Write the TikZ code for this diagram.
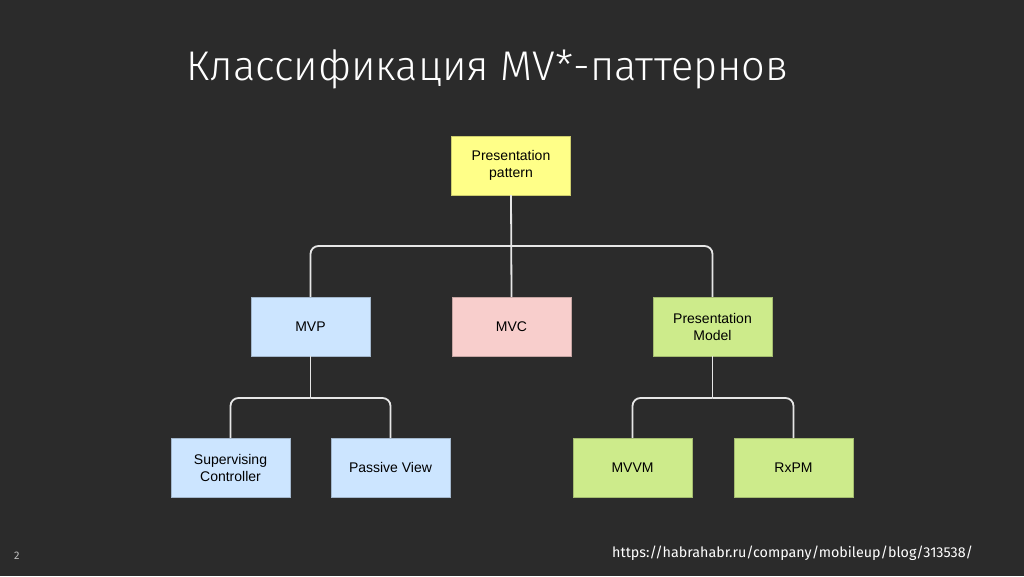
\documentclass[tikz,border=0pt]{standalone}
\usepackage{fontspec}
\setmainfont{Liberation Sans}
\newfontfamily\titlefont{Fira Sans Light}
\newfontfamily\urlfont{Fira Sans}
\definecolor{bg}{HTML}{2B2B2B}
\definecolor{cyel}{HTML}{FFFF88}
\definecolor{cblue}{HTML}{CCE5FF}
\definecolor{cpink}{HTML}{F8CECC}
\definecolor{cgreen}{HTML}{CDEB8B}
\definecolor{cline}{HTML}{E6E6E6}
\begin{document}
\begin{tikzpicture}[x=1pt,y=-1pt,
  box/.style={minimum width=119pt,minimum height=59pt,inner sep=0pt,align=center,
    font=\fontsize{14}{17}\selectfont,text=black},
  yel/.style={box,fill=cyel,draw=cyel!80!black,line width=0.4pt},
  blu/.style={box,fill=cblue,draw=cblue!80!black,line width=0.4pt},
  pnk/.style={box,fill=cpink,draw=cpink!80!black,line width=0.4pt},
  grn/.style={box,fill=cgreen,draw=cgreen!80!black,line width=0.4pt},
  conn/.style={draw=cline,line width=1.8pt,rounded corners=8pt}]
\fill[bg] (0,0) rectangle (1024,576);
\useasboundingbox (0,0) rectangle (1024,576);
\node[anchor=base west,inner sep=0pt,text=white,font=\titlefont\fontsize{41.5}{48}\selectfont] (title) at (186,80) {Классификация MV*-паттернов};
\node[yel] (top) at (511,165.5) {Presentation\\pattern};
\node[blu] (mvp) at (310.5,326.5) {MVP};
\node[pnk] (mvc) at (511.5,326.5) {MVC};
\node[grn] (pm) at (712.5,326.5) {Presentation\\Model};
\node[blu] (sc) at (230.5,467.5) {Supervising\\Controller};
\node[blu] (pv) at (390.5,467.5) {Passive View};
\node[grn] (mvvm) at (632.5,467.5) {MVVM};
\node[grn] (rxpm) at (793.5,467.5) {RxPM};
\coordinate (bus1) at (511,246);
\coordinate (bus2) at (310.5,398);
\coordinate (bus3) at (712.5,398);
\draw[conn] (top.south) -- (mvc.north);
\draw[conn] (bus1) -| (mvp.north);
\draw[conn] (bus1) -| (pm.north);
\draw[conn] (mvp.south) -- (bus2);
\draw[conn] (bus2) -| (sc.north);
\draw[conn] (bus2) -| (pv.north);
\draw[conn] (pm.south) -- (bus3);
\draw[conn] (bus3) -| (mvvm.north);
\draw[conn] (bus3) -| (rxpm.north);
\node[anchor=base west,inner sep=0pt,text=white,font=\urlfont\fontsize{14.3}{18}\selectfont] (url) at (612,557) {https://habrahabr.ru/company/mobileup/blog/313538/};
\node[anchor=base west,inner sep=0pt,text=white!70!bg,font=\urlfont\fontsize{11}{12}\selectfont] (pg) at (14,559) {2};
\end{tikzpicture}
\end{document}
